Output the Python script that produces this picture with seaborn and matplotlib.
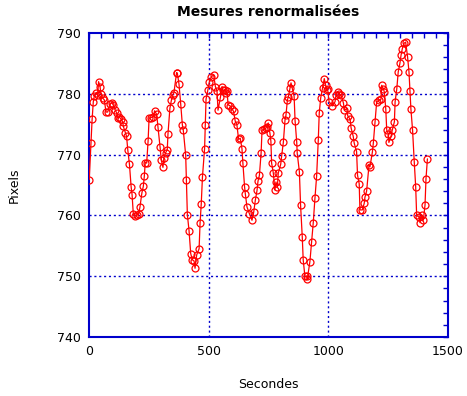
import numpy as np
import pandas as pd
import seaborn as sns
import matplotlib
matplotlib.use('Agg')
import matplotlib.pyplot as plt
from matplotlib.ticker import MultipleLocator

# Data (time in s, position in pixels)
secondes = [
    1, 8, 13, 18, 22, 29, 36, 40, 46, 50, 57, 64, 71, 78, 88, 96, 102, 110, 116, 120,
    127, 134, 141, 143, 152, 157, 162, 169, 176, 180, 185, 194, 199, 208, 213, 221, 227, 231, 235, 241,
    247, 251, 260, 269, 274, 283, 288, 297, 302, 309, 313, 320, 327, 330, 338, 344, 350, 355, 366, 369,
    376, 383, 390, 394, 404, 407, 411, 418, 425, 432, 439, 443, 450, 460, 464, 469, 474, 483, 486, 489,
    497, 503, 511, 521, 528, 535, 539, 549, 556, 559, 567, 572, 577, 581, 590, 598, 604, 611, 618, 625,
    632, 639, 643, 650, 653, 660, 670, 681, 688, 695, 702, 706, 712, 719, 723, 731, 738, 742, 749, 756,
    760, 763, 770, 777, 781, 787, 791, 801, 805, 812, 819, 823, 829, 833, 840, 844, 857, 861, 868, 870,
    879, 884, 891, 895, 902, 909, 912, 923, 930, 937, 944, 951, 958, 962, 968, 976, 983, 989, 993, 997,
    1003, 1017, 1028, 1032, 1039, 1045, 1053, 1063, 1067, 1077, 1081, 1091, 1095, 1104, 1108, 1118, 1122, 1129, 1132, 1142,
    1150, 1153, 1160, 1170, 1174, 1184, 1188, 1195, 1202, 1212, 1220, 1223, 1230, 1234, 1240, 1244, 1251, 1253, 1262, 1267,
    1276, 1279, 1286, 1292, 1299, 1304, 1309, 1316, 1323, 1331, 1337, 1341, 1345, 1352, 1359, 1365, 1369, 1379, 1383, 1390,
    1397, 1404, 1408, 1414,
]
pixels = [
    765.9, 771.9, 775.8, 778.7, 779.6, 780.1, 779.8, 782.0, 781.2, 780.0, 779.3, 779.0, 777.0, 777.0, 778.4, 778.5, 778.1, 777.3, 776.8, 776.0,
    776.2, 775.8, 775.4, 774.7, 773.6, 773.0, 770.8, 768.4, 764.7, 763.4, 760.3, 759.9, 760.0, 760.3, 761.4, 763.7, 764.8, 766.4, 768.7, 768.6,
    772.3, 776.0, 776.1, 776.2, 777.2, 776.6, 774.6, 771.2, 769.1, 767.9, 769.5, 770.3, 770.8, 773.4, 777.6, 778.9, 779.8, 780.2, 783.5, 783.4,
    781.6, 778.4, 774.9, 774.0, 769.9, 765.9, 760.1, 757.5, 753.7, 752.7, 752.5, 751.3, 753.5, 754.5, 758.7, 761.9, 766.3, 771.0, 774.9, 779.1,
    780.7, 782.0, 782.8, 783.1, 781.2, 780.4, 777.3, 779.4, 781.2, 780.6, 780.6, 780.2, 780.4, 778.2, 778.0, 777.5, 777.1, 775.5, 774.9, 772.5,
    772.7, 771.0, 768.6, 764.7, 763.6, 761.4, 760.3, 759.2, 760.5, 762.5, 764.1, 765.6, 766.6, 770.2, 774.0, 774.2, 774.3, 774.6, 775.2, 773.5,
    772.2, 768.6, 767.0, 764.2, 765.5, 764.7, 767.0, 768.4, 769.8, 772.0, 775.7, 776.5, 779.0, 779.5, 781.0, 781.8, 779.6, 775.6, 772.0, 770.2,
    767.2, 761.7, 756.5, 752.7, 750.0, 750.0, 749.5, 752.4, 755.7, 758.8, 762.8, 766.4, 772.4, 776.8, 779.3, 781.0, 782.5, 781.4, 780.6, 780.8,
    778.7, 778.0, 778.7, 779.8, 780.3, 780.0, 779.8, 778.5, 777.3, 777.6, 776.4, 775.8, 774.4, 773.0, 771.9, 770.5, 766.6, 765.2, 760.9, 760.9,
    762.0, 763.0, 764.0, 768.3, 768.0, 770.4, 771.9, 775.4, 778.7, 778.9, 779.1, 781.4, 780.8, 780.3, 777.5, 774.0, 773.4, 772.0, 773.0, 774.0,
    775.4, 778.7, 780.8, 783.6, 785.0, 786.4, 787.4, 788.3, 788.5, 786.1, 783.6, 780.5, 777.5, 774.0, 768.8, 764.7, 760.0, 759.7, 758.8, 760.0,
    759.2, 761.7, 766.0, 769.3,
]

df = pd.DataFrame({'Secondes': secondes, 'Pixels': pixels})

sns.set_style("white")
plt.rcParams['font.family'] = ['DejaVu Sans']
plt.rcParams['text.color'] = 'black'
plt.rcParams['axes.labelcolor'] = 'black'

fig = plt.figure(figsize=(4.67, 3.96), dpi=100)
ax = fig.add_axes([89 / 467, 1 - 337 / 396, (448 - 89) / 467, (337 - 33) / 396])

bleu = '#0000cc'

# blue dotted grid at the major ticks
for xv in [500, 1000]:
    ax.axvline(xv, color=bleu, linestyle=(0, (1.5, 2)), linewidth=1, zorder=1)
for yv in [750, 760, 770, 780]:
    ax.axhline(yv, color=bleu, linestyle=(0, (1.5, 2)), linewidth=1, zorder=1)

sns.lineplot(data=df, x='Secondes', y='Pixels', ax=ax, color='red', linewidth=0.9,
             marker='o', markersize=5, markerfacecolor='none', markeredgecolor='red',
             markeredgewidth=0.9, zorder=3)

ax.set_xlim(0, 1500)
ax.set_ylim(740, 790)
ax.xaxis.set_major_locator(MultipleLocator(500))
ax.xaxis.set_minor_locator(MultipleLocator(50))
ax.yaxis.set_major_locator(MultipleLocator(10))
ax.yaxis.set_minor_locator(MultipleLocator(2))
ax.tick_params(which='both', direction='in', top=True, right=True, color=bleu,
               length=3.5, width=1, labelsize=9, labelcolor='black')
ax.tick_params(which='major', length=3.5, pad=6)

for s in ax.spines.values():
    s.set_color(bleu)
    s.set_linewidth(1.5)

ax.set_title('Mesures renormalisées', fontsize=10, fontweight='bold', pad=12, color='black')
ax.set_xlabel('Secondes', fontsize=9, labelpad=14)
ax.set_ylabel('Pixels', fontsize=9, labelpad=26)

fig.savefig('out.png', dpi=100, facecolor='white')
